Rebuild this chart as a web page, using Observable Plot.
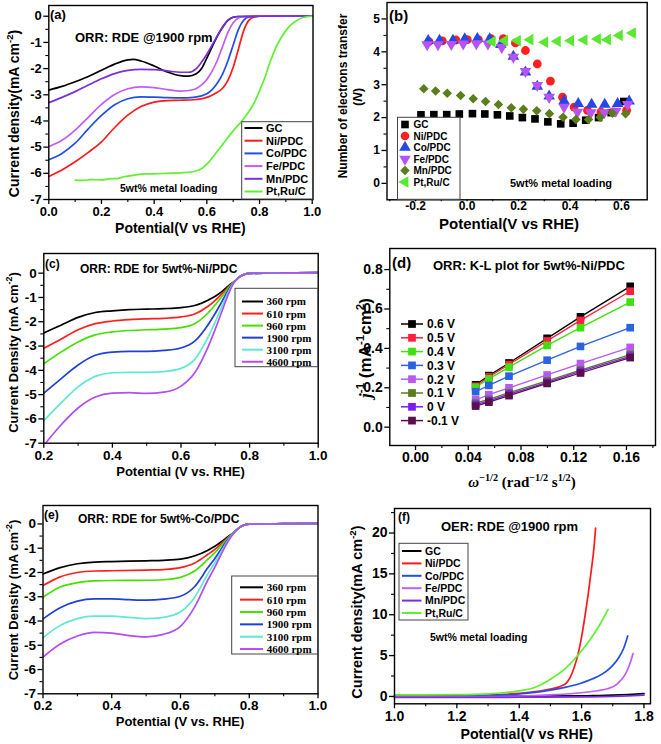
<!DOCTYPE html>
<html><head><meta charset="utf-8">
<script src="https://cdn.jsdelivr.net/npm/d3@7"></script>
<script src="https://cdn.jsdelivr.net/npm/@observablehq/plot@0.6"></script>
<style>
html,body{margin:0;padding:0;background:#fff;}
#root{position:relative;width:661px;height:744px;overflow:hidden;background:#fff;}
#root svg{position:absolute;}
</style></head><body><div id="root"></div>
<script>
const SANS = '"Liberation Sans", Arial, Helvetica, sans-serif';
const SERIF = '"Liberation Serif", "Times New Roman", serif';

// ---------- (a) ORR @1900 rpm ----------
const metalNames = ["GC","Ni/PDC","Co/PDC","Fe/PDC","Mn/PDC","Pt,Ru/C"];
const metalColors = ["#000000","#ff1a1a","#1f4fe6","#c25cf7","#7a2ee0","#5ff02f"];
const aGC = [[0,-2.82],[0.05,-2.68],[0.1,-2.5],[0.15,-2.3],[0.2,-2.06],[0.25,-1.83],[0.3,-1.67],[0.32,-1.65],[0.35,-1.71],[0.4,-1.9],[0.45,-2.13],[0.5,-2.27],[0.53,-2.29],[0.56,-2.2],[0.58,-2.0],[0.6,-1.6],[0.62,-1.17],[0.64,-0.76],[0.66,-0.42],[0.68,-0.16],[0.7,-0.04],[0.72,-0.01],[0.8,0],[1.0,0.01]];
const aNi = [[0,-6.12],[0.05,-5.87],[0.1,-5.56],[0.15,-5.2],[0.2,-4.8],[0.25,-4.25],[0.3,-3.78],[0.35,-3.45],[0.4,-3.28],[0.45,-3.22],[0.5,-3.21],[0.55,-3.19],[0.6,-3.1],[0.63,-2.96],[0.66,-2.75],[0.68,-2.45],[0.7,-1.95],[0.72,-1.25],[0.74,-0.55],[0.76,-0.15],[0.78,-0.03],[0.8,0],[1.0,0.01]];
const aCo = [[0,-5.48],[0.05,-5.24],[0.1,-4.85],[0.15,-4.3],[0.2,-3.79],[0.25,-3.38],[0.3,-3.15],[0.35,-3.08],[0.4,-3.09],[0.45,-3.11],[0.5,-3.12],[0.55,-3.1],[0.6,-2.96],[0.62,-2.8],[0.64,-2.55],[0.66,-2.2],[0.68,-1.7],[0.7,-1.1],[0.72,-0.5],[0.74,-0.15],[0.76,-0.03],[0.8,0],[1.0,0.01]];
const aFe = [[0,-4.98],[0.05,-4.74],[0.1,-4.35],[0.15,-3.86],[0.2,-3.37],[0.25,-2.99],[0.3,-2.77],[0.35,-2.7],[0.4,-2.73],[0.45,-2.8],[0.5,-2.86],[0.55,-2.8],[0.58,-2.62],[0.6,-2.42],[0.62,-2.1],[0.64,-1.68],[0.66,-1.15],[0.68,-0.62],[0.7,-0.25],[0.72,-0.07],[0.74,-0.01],[0.8,0],[1.0,0.01]];
const aMn = [[0,-3.3],[0.05,-3.1],[0.1,-2.88],[0.15,-2.63],[0.2,-2.39],[0.25,-2.19],[0.3,-2.07],[0.35,-2.03],[0.4,-2.04],[0.45,-2.09],[0.5,-2.14],[0.53,-2.14],[0.56,-2.0],[0.58,-1.75],[0.6,-1.45],[0.62,-1.1],[0.64,-0.74],[0.66,-0.4],[0.68,-0.15],[0.7,-0.04],[0.72,-0.01],[0.8,0],[1.0,0.01]];
const aPt = [[0.1,-6.26],[0.13,-6.27],[0.16,-6.24],[0.2,-6.25],[0.23,-6.21],[0.26,-6.2],[0.29,-6.12],[0.32,-6.08],[0.35,-6.03],[0.4,-6.02],[0.45,-6.0],[0.5,-5.98],[0.55,-5.93],[0.58,-5.82],[0.6,-5.65],[0.65,-5.02],[0.7,-4.38],[0.75,-3.78],[0.78,-3.3],[0.8,-2.85],[0.82,-2.35],[0.84,-1.75],[0.86,-1.25],[0.88,-0.85],[0.9,-0.55],[0.92,-0.32],[0.94,-0.17],[0.96,-0.07],[0.98,-0.02],[1.0,0]];
const aXTicks = [0,0.2,0.4,0.6,0.8,1.0];
const aXMinor = [0.1,0.3,0.5,0.7,0.9];
const aYTicks = [0,-1,-2,-3,-4,-5,-6,-7];
const aYMinor = [-0.5,-1.5,-2.5,-3.5,-4.5,-5.5,-6.5];

// ---------- (b) electron transfer number ----------
const bGC = [[-0.179,2.085],[-0.129,2.09],[-0.079,2.09],[-0.03,2.11],[0.021,2.12],[0.069,2.11],[0.118,2.085],[0.166,2.05],[0.215,2.0],[0.264,1.96],[0.314,1.87],[0.364,1.81],[0.412,1.83],[0.461,1.92],[0.511,2.0],[0.56,2.15],[0.609,2.49]];
const bNi = [[-0.148,4.31],[-0.096,4.33],[-0.043,4.36],[0.001,4.37],[0.044,4.37],[0.093,4.4],[0.141,4.4],[0.188,4.27],[0.227,4.04],[0.273,3.63],[0.324,3.11],[0.371,2.62],[0.416,2.32],[0.468,2.22],[0.52,2.17],[0.569,2.17],[0.62,2.22]];
const bCo = [[-0.151,4.34],[-0.107,4.35],[-0.055,4.35],[-0.009,4.39],[0.04,4.4],[0.088,4.39],[0.131,4.22],[0.18,3.86],[0.227,3.38],[0.273,2.95],[0.319,2.65],[0.377,2.51],[0.432,2.42],[0.484,2.4],[0.535,2.4],[0.585,2.42],[0.63,2.5]];
const bFe = [[-0.155,4.22],[-0.113,4.22],[-0.061,4.23],[-0.015,4.24],[0.036,4.25],[0.081,4.24],[0.135,4.14],[0.18,3.84],[0.227,3.41],[0.273,2.98],[0.319,2.62],[0.377,2.32],[0.429,2.17],[0.481,2.15],[0.533,2.15],[0.578,2.2],[0.624,2.4]];
const bMn = [[-0.168,2.88],[-0.122,2.81],[-0.077,2.74],[-0.025,2.67],[0.024,2.57],[0.072,2.49],[0.122,2.4],[0.172,2.3],[0.219,2.25],[0.271,2.21],[0.32,2.12],[0.373,2.01],[0.423,1.94],[0.472,1.94],[0.517,2.01],[0.565,2.13],[0.616,2.12]];
const bPt = [[0.098,4.31],[0.146,4.34],[0.196,4.34],[0.245,4.37],[0.302,4.29],[0.351,4.32],[0.403,4.34],[0.455,4.36],[0.507,4.39],[0.546,4.37],[0.592,4.5],[0.643,4.57]];
const bColors = ["#000000","#ff1f1f","#2546e8","#b653f5","#5c7d1c","#58e830"];
const bXTicks = [-0.2,0,0.2,0.4,0.6];
const bXMinor = [-0.3,-0.1,0.1,0.3,0.5];
const bYTicks = [0,1,2,3,4,5];
const bYMinor = [0.5,1.5,2.5,3.5,4.5];

// ---------- (c) Ni/PDC rpm series ----------
const rpmNames = ["360 rpm","610 rpm","960 rpm","1900 rpm","3100 rpm","4600 rpm"];
const rpmColors = ["#000000","#ff1f1f","#44e000","#1f3fd6","#5fe8d2","#b44cf2"];
const c360 = [[0.2,-2.46],[0.25,-2.14],[0.3,-1.82],[0.35,-1.62],[0.4,-1.55],[0.45,-1.5],[0.5,-1.48],[0.55,-1.46],[0.6,-1.42],[0.64,-1.33],[0.68,-1.1],[0.7,-0.95],[0.72,-0.75],[0.74,-0.5],[0.755,-0.35],[0.77,-0.16],[0.785,-0.05],[0.8,-0.01],[0.9,0.01],[1.0,0.02]];
const c610 = [[0.2,-3.09],[0.25,-2.72],[0.3,-2.33],[0.35,-2.08],[0.4,-1.97],[0.45,-1.91],[0.5,-1.88],[0.55,-1.86],[0.6,-1.8],[0.64,-1.68],[0.68,-1.35],[0.7,-1.12],[0.72,-0.84],[0.74,-0.54],[0.755,-0.35],[0.77,-0.16],[0.785,-0.05],[0.8,-0.01],[0.9,0.01],[1.0,0.02]];
const c960 = [[0.2,-3.73],[0.25,-3.25],[0.3,-2.83],[0.35,-2.54],[0.4,-2.42],[0.45,-2.36],[0.5,-2.33],[0.55,-2.3],[0.6,-2.24],[0.64,-2.08],[0.68,-1.62],[0.7,-1.3],[0.72,-0.95],[0.74,-0.58],[0.755,-0.35],[0.77,-0.16],[0.785,-0.05],[0.8,-0.01],[0.9,0.01],[1.0,0.02]];
const c1900 = [[0.2,-4.94],[0.25,-4.35],[0.3,-3.78],[0.35,-3.38],[0.4,-3.25],[0.45,-3.22],[0.5,-3.22],[0.55,-3.18],[0.6,-3.08],[0.64,-2.8],[0.68,-2.1],[0.7,-1.65],[0.72,-1.15],[0.74,-0.65],[0.755,-0.36],[0.77,-0.16],[0.785,-0.05],[0.8,-0.01],[0.9,0.01],[1.0,0.02]];
const c3100 = [[0.2,-6.07],[0.25,-5.35],[0.3,-4.68],[0.35,-4.25],[0.4,-4.1],[0.45,-4.08],[0.5,-4.08],[0.55,-4.05],[0.6,-3.92],[0.64,-3.55],[0.68,-2.6],[0.7,-2.0],[0.72,-1.35],[0.74,-0.72],[0.755,-0.37],[0.77,-0.16],[0.785,-0.05],[0.8,-0.01],[0.9,0.01],[1.0,0.02]];
const c4600 = [[0.205,-7.0],[0.25,-6.25],[0.3,-5.55],[0.35,-5.1],[0.4,-4.94],[0.45,-4.92],[0.5,-4.95],[0.55,-4.9],[0.6,-4.65],[0.64,-4.1],[0.68,-3.0],[0.7,-2.3],[0.72,-1.55],[0.74,-0.8],[0.755,-0.38],[0.77,-0.16],[0.785,-0.05],[0.8,-0.01],[0.9,0.01],[1.0,0.02]];
const ceXTicks = [0.2,0.4,0.6,0.8,1.0];
const ceXMinor = [0.3,0.5,0.7,0.9];
const ceYTicks = [0,-1,-2,-3,-4,-5,-6,-7];
const ceYMinor = [-0.5,-1.5,-2.5,-3.5,-4.5,-5.5,-6.5];

// ---------- (d) K-L plot ----------
const dNames = ["0.6 V","0.5 V","0.4 V","0.3 V","0.2 V","0.1 V","0 V","-0.1 V"];
const dColors = ["#000000","#ff1f3f","#40e010","#2a62e0","#b65af2","#5c7a1e","#7a1ef0","#5a0f4e"];
const dX = [0.0456,0.0556,0.0709,0.0998,0.1251,0.1628];
const d06 = [0.215,0.262,0.326,0.451,0.560,0.715];
const d05 = [0.208,0.255,0.318,0.438,0.542,0.690];
const d04 = [0.203,0.245,0.305,0.415,0.505,0.635];
const d03 = [0.180,0.212,0.259,0.340,0.410,0.505];
const d02 = [0.139,0.165,0.200,0.265,0.323,0.405];
const d01 = [0.122,0.141,0.175,0.235,0.290,0.368];
const d00 = [0.115,0.134,0.168,0.228,0.283,0.360];
const dm01 = [0.107,0.127,0.160,0.222,0.275,0.353];
const dXTicks = [0,0.04,0.08,0.12,0.16];
const dXMinor = [0.02,0.06,0.10,0.14,0.18];
const dYTicks = [0,0.2,0.4,0.6,0.8];
const dYMinor = [0.1,0.3,0.5,0.7];

// ---------- (e) Co/PDC rpm series ----------
const e360 = [[0.2,-2.06],[0.25,-1.8],[0.3,-1.64],[0.35,-1.57],[0.4,-1.55],[0.5,-1.52],[0.55,-1.5],[0.6,-1.45],[0.64,-1.32],[0.68,-1.08],[0.7,-0.92],[0.72,-0.72],[0.74,-0.5],[0.755,-0.35],[0.77,-0.16],[0.785,-0.05],[0.8,-0.01],[0.9,0.01],[1.0,0.02]];
const e610 = [[0.2,-2.54],[0.25,-2.18],[0.3,-2.0],[0.35,-1.94],[0.4,-1.93],[0.5,-1.9],[0.55,-1.88],[0.6,-1.8],[0.64,-1.62],[0.68,-1.25],[0.7,-1.05],[0.72,-0.8],[0.74,-0.53],[0.755,-0.35],[0.77,-0.16],[0.785,-0.05],[0.8,-0.01],[0.9,0.01],[1.0,0.02]];
const e960 = [[0.2,-3.02],[0.25,-2.6],[0.3,-2.42],[0.35,-2.35],[0.4,-2.33],[0.5,-2.32],[0.55,-2.3],[0.6,-2.2],[0.64,-1.95],[0.68,-1.45],[0.7,-1.18],[0.72,-0.88],[0.74,-0.56],[0.755,-0.35],[0.77,-0.16],[0.785,-0.05],[0.8,-0.01],[0.9,0.01],[1.0,0.02]];
const e1900 = [[0.2,-3.91],[0.25,-3.45],[0.3,-3.18],[0.35,-3.09],[0.4,-3.09],[0.45,-3.12],[0.5,-3.14],[0.55,-3.1],[0.6,-2.98],[0.64,-2.6],[0.68,-1.8],[0.7,-1.42],[0.72,-1.0],[0.74,-0.6],[0.755,-0.36],[0.77,-0.16],[0.785,-0.05],[0.8,-0.01],[0.9,0.01],[1.0,0.02]];
const e3100 = [[0.2,-4.69],[0.25,-4.18],[0.3,-3.9],[0.35,-3.8],[0.4,-3.8],[0.45,-3.85],[0.5,-3.9],[0.55,-3.85],[0.6,-3.62],[0.64,-3.05],[0.68,-2.05],[0.7,-1.6],[0.72,-1.1],[0.74,-0.64],[0.755,-0.37],[0.77,-0.16],[0.785,-0.05],[0.8,-0.01],[0.9,0.01],[1.0,0.02]];
const e4600 = [[0.2,-5.49],[0.25,-4.95],[0.3,-4.62],[0.35,-4.47],[0.4,-4.5],[0.45,-4.6],[0.5,-4.65],[0.55,-4.55],[0.6,-4.22],[0.64,-3.45],[0.68,-2.3],[0.7,-1.78],[0.72,-1.2],[0.74,-0.68],[0.755,-0.38],[0.77,-0.16],[0.785,-0.05],[0.8,-0.01],[0.9,0.01],[1.0,0.02]];

// ---------- (f) OER @1900 rpm ----------
const fGC = [[1.0,0.05],[1.2,0.05],[1.4,0.05],[1.6,0.06],[1.65,0.1],[1.7,0.16],[1.75,0.24],[1.8,0.35]];
const fNi = [[1.0,0.08],[1.1,0.1],[1.2,0.12],[1.3,0.18],[1.35,0.25],[1.4,0.37],[1.45,0.58],[1.5,0.9],[1.53,1.2],[1.55,1.6],[1.56,2.1],[1.57,2.9],[1.58,4.0],[1.59,5.4],[1.6,7.3],[1.61,9.6],[1.62,12.2],[1.63,15.1],[1.64,18.3],[1.645,20.6]];
const fCo = [[1.0,0.0],[1.2,0.02],[1.3,0.1],[1.4,0.3],[1.45,0.5],[1.5,0.78],[1.55,1.15],[1.6,1.65],[1.65,2.4],[1.68,3.1],[1.7,3.8],[1.72,4.8],[1.735,5.9],[1.748,7.4]];
const fFe = [[1.0,-0.05],[1.3,-0.02],[1.4,0.05],[1.5,0.2],[1.55,0.3],[1.6,0.45],[1.65,0.7],[1.683,0.94],[1.715,1.55],[1.74,2.7],[1.755,4.0],[1.765,5.25]];
const fMn = [[1.0,-0.12],[1.2,-0.12],[1.4,-0.1],[1.6,-0.05],[1.7,0.0],[1.75,0.06],[1.8,0.15]];
const fPt = [[1.0,0.2],[1.1,0.2],[1.2,0.22],[1.3,0.32],[1.35,0.45],[1.4,0.68],[1.45,1.1],[1.5,2.1],[1.55,3.5],[1.6,5.6],[1.63,7.1],[1.66,8.9],[1.685,10.65]];
const fXTicks = [1.0,1.2,1.4,1.6,1.8];
const fXMinor = [1.1,1.3,1.5,1.7];
const fYTicks = [0,5,10,15,20];
const fYMinor = [2.5,7.5,12.5,17.5,22.5];

// ---------- helpers ----------
const root = document.getElementById("root");
const sgn = d => (d < 0 ? "-" : "");
const fmt0 = d => sgn(d) + Math.abs(d).toFixed(0);
const fmt1 = d => sgn(d) + Math.abs(d).toFixed(1);
const fmt2 = d => sgn(d) + Math.abs(d).toFixed(2);
const toRows = (names, series) => series.flatMap((s, i) => s.map(([x, y]) => ({name: names[i], x, y})));
const sqrt3 = Math.sqrt(3);
const triDown = {draw(ctx, size) { const y = -Math.sqrt(size / (sqrt3 * 3)); ctx.moveTo(0, -y * 2); ctx.lineTo(-sqrt3 * y, y); ctx.lineTo(sqrt3 * y, y); ctx.closePath(); }};
const triLeft = {draw(ctx, size) { const y = -Math.sqrt(size / (sqrt3 * 3)); ctx.moveTo(y * 2, 0); ctx.lineTo(-y, -sqrt3 * y); ctx.lineTo(-y, sqrt3 * y); ctx.closePath(); }};
const bSymbols = [d3.symbolSquare, d3.symbolCircle, d3.symbolTriangle, triDown, d3.symbolDiamond2, triLeft];

function makePanel(c) {
  const xt = c.xTickSize ?? 5, xp = c.xTickPad ?? 2;
  const svg = Plot.plot({
    width: c.width, height: c.height,
    marginLeft: c.frame.l - c.left, marginRight: c.left + c.width - c.frame.r,
    marginTop: c.frame.t - c.top, marginBottom: c.top + c.height - c.frame.b,
    x: {domain: c.xDomain}, y: {domain: c.yDomain},
    color: c.color,
    style: {fontFamily: SANS, fontSize: c.tickFont + "px", fontWeight: "bold", color: "#000", background: "transparent", overflow: "visible"},
    marks: [
      ...c.marks,
      Plot.frame({stroke: "#000", strokeWidth: 1.4}),
      Plot.axisX(c.xTicks, {tickSize: xt, tickPadding: xp, tickFormat: c.xFmt, strokeWidth: 1.3, label: null}),
      Plot.axisX(c.xMinor, {tickSize: Math.min(3, xt), tickFormat: () => "", strokeWidth: 1.1, label: null}),
      Plot.axisY(c.yTicks, {tickSize: 5, tickPadding: 2, tickFormat: c.yFmt, strokeWidth: 1.3, label: null}),
      Plot.axisY(c.yMinor, {tickSize: 3, tickFormat: () => "", strokeWidth: 1.1, label: null})
    ]
  });
  svg.style.left = c.left + "px";
  svg.style.top = c.top + "px";
  root.appendChild(svg);
}

// (a)
makePanel({
  left: 0, top: 0, width: 330, height: 250, frame: {l: 48.3, r: 312.5, t: 5, b: 199},
  xDomain: [0, 1.003], yDomain: [-7, 0.41], tickFont: 13,
  xTicks: aXTicks, xMinor: aXMinor, xFmt: fmt1, yTicks: aYTicks, yMinor: aYMinor, yFmt: fmt0,
  color: {domain: metalNames, range: metalColors},
  marks: [Plot.line(toRows(metalNames, [aGC, aNi, aCo, aFe, aMn, aPt]), {x: "x", y: "y", z: "name", stroke: "name", strokeWidth: 1.7, curve: "monotone-x"})]
});
// (b)
const bSeries = [bGC, bNi, bCo, bFe, bMn, bPt];
makePanel({
  left: 330, top: 0, width: 331, height: 240, frame: {l: 386.5, r: 646.7, t: 2, b: 199.3},
  xDomain: [-0.311, 0.70], yDomain: [-0.5, 5.5], tickFont: 12, xTickSize: 2, xTickPad: 0,
  xTicks: bXTicks, xMinor: bXMinor, xFmt: fmt1, yTicks: bYTicks, yMinor: bYMinor, yFmt: fmt0,
  marks: bSeries.map((s, i) => Plot.dot(s, {x: d => d[0], y: d => d[1], fill: bColors[i], symbol: bSymbols[i], r: i === 1 ? 4.4 : 4.3, stroke: "none"}))
});
// (c)
makePanel({
  left: 0, top: 250, width: 330, height: 250, frame: {l: 43.3, r: 317.7, t: 253, b: 442.7},
  xDomain: [0.2, 1.0], yDomain: [-7, 0.81], tickFont: 13.5,
  xTicks: ceXTicks, xMinor: ceXMinor, xFmt: fmt1, yTicks: ceYTicks, yMinor: ceYMinor, yFmt: fmt0,
  color: {domain: rpmNames, range: rpmColors},
  marks: [Plot.line(toRows(rpmNames, [c360, c610, c960, c1900, c3100, c4600]), {x: "x", y: "y", z: "name", stroke: "name", strokeWidth: 1.7, curve: "monotone-x", clip: true})]
});
// (d)
const dSeries = [d06, d05, d04, d03, d02, d01, d00, dm01];
const dRows = dSeries.flatMap((ys, i) => ys.map((y, j) => ({name: dNames[i], x: dX[j], y})));
makePanel({
  left: 330, top: 240, width: 331, height: 260, frame: {l: 389.3, r: 655, t: 248, b: 445},
  xDomain: [-0.0195, 0.182], yDomain: [-0.093, 0.907], tickFont: 14,
  xTicks: dXTicks, xMinor: dXMinor, xFmt: fmt2, yTicks: dYTicks, yMinor: dYMinor, yFmt: fmt1,
  color: {domain: dNames, range: dColors},
  marks: [
    Plot.line(dRows, {x: "x", y: "y", z: "name", stroke: "name", strokeWidth: 1.3}),
    Plot.dot(dRows, {x: "x", y: "y", fill: "name", symbol: "square", r: 4.3})
  ]
});
// (e)
makePanel({
  left: 0, top: 500, width: 330, height: 244, frame: {l: 42.5, r: 317.5, t: 505, b: 693.3},
  xDomain: [0.2, 1.0], yDomain: [-7, 0.76], tickFont: 13.5,
  xTicks: ceXTicks, xMinor: ceXMinor, xFmt: fmt1, yTicks: ceYTicks, yMinor: ceYMinor, yFmt: fmt0,
  color: {domain: rpmNames, range: rpmColors},
  marks: [Plot.line(toRows(rpmNames, [e360, e610, e960, e1900, e3100, e4600]), {x: "x", y: "y", z: "name", stroke: "name", strokeWidth: 1.7, curve: "monotone-x", clip: true})]
});
// (f)
makePanel({
  left: 330, top: 500, width: 331, height: 244, frame: {l: 394, r: 650, t: 508, b: 703.3},
  xDomain: [1.0, 1.821], yDomain: [-0.9, 23.0], tickFont: 14,
  xTicks: fXTicks, xMinor: fXMinor, xFmt: fmt1, yTicks: fYTicks, yMinor: fYMinor, yFmt: fmt0,
  color: {domain: metalNames, range: metalColors},
  marks: [Plot.line(toRows(metalNames, [fGC, fNi, fCo, fFe, fMn, fPt]), {x: "x", y: "y", z: "name", stroke: "name", strokeWidth: 1.7, curve: "monotone-x"})]
});

// ---------- overlay: titles, labels, legends ----------
const ov = d3.create("svg").attr("width", 661).attr("height", 744)
  .style("left", "0px").style("top", "0px").style("pointer-events", "none").style("overflow", "visible");
root.appendChild(ov.node());

function rich(x, y, parts, o = {}) {
  const size = o.size || 12;
  const t = ov.append("text")
    .attr("transform", `translate(${x},${y})` + (o.rotate ? ` rotate(${o.rotate})` : ""))
    .attr("text-anchor", o.anchor || "start")
    .attr("font-family", o.family || SANS)
    .attr("font-weight", o.weight || "bold")
    .attr("font-size", size)
    .attr("fill", "#000");
  if (typeof parts === "string") parts = [{t: parts}];
  let shift = 0;
  for (const p of parts) {
    const ts = t.append("tspan").text(p.t);
    const target = p.sup ? -0.42 * size : 0;
    if (target !== shift) { ts.attr("dy", target - shift); shift = target; }
    if (p.sup) ts.attr("font-size", 0.68 * size);
    if (p.italic) ts.attr("font-style", "italic");
    if (p.family) ts.attr("font-family", p.family);
  }
  return t;
}

// panel titles
rich(50, 19, "(a)", {size: 13});
rich(75, 41.5, "ORR: RDE @1900 rpm", {size: 13});
rich(120, 191.5, "5wt% metal loading", {size: 10.5});
rich(389, 21, "(b)", {size: 15});
rich(510, 187, "5wt% metal loading", {size: 11});
rich(45, 268, "(c)", {size: 12});
rich(80, 272.5, "ORR: RDE for 5wt%-Ni/PDC", {size: 12});
rich(392, 268, "(d)", {size: 15});
rich(433, 269.5, "ORR: K-L plot for 5wt%-Ni/PDC", {size: 13});
rich(44, 519, "(e)", {size: 12});
rich(78, 523, "ORR: RDE for 5wt%-Co/PDC", {size: 12});
rich(398, 521, "(f)", {size: 12});
rich(441, 531, "OER: RDE @1900 rpm", {size: 13});
rich(430, 641, "5wt% metal loading", {size: 10.5});

// axis titles
const cdA = [{t: "Current density(mA cm"}, {t: "-2", sup: true}, {t: ")"}];
rich(18.5, 113.5, cdA, {size: 14, anchor: "middle", rotate: -90});
rich(180.4, 233, "Potential(V vs RHE)", {size: 14, anchor: "middle"});
rich(347, 96, "Number of electrons transfer", {size: 12, anchor: "middle", rotate: -90});
rich(362, 97, [{t: "("}, {t: "N", italic: true}, {t: ")"}], {size: 13, anchor: "middle", rotate: -90});
rich(509, 229, "Potential(V vs RHE)", {size: 15, anchor: "middle"});
const cdC = [{t: "Current Density (mA cm"}, {t: "-2", sup: true}, {t: ")"}];
rich(17.5, 352.5, cdC, {size: 13, anchor: "middle", rotate: -90});
rich(180.5, 476, "Potential (V vs. RHE)", {size: 13, anchor: "middle"});
rich(17.5, 600, cdC, {size: 13, anchor: "middle", rotate: -90});
rich(180, 726, "Potential (V vs. RHE)", {size: 13, anchor: "middle"});
rich(371, 348, [{t: "j", italic: true, family: SERIF}, {t: "-1", sup: true}, {t: " (mA"}, {t: "-1", sup: true}, {t: "cm"}, {t: "2", sup: true}, {t: ")"}], {size: 17, anchor: "middle", rotate: -90});
rich(522, 487, [{t: "ω", italic: true}, {t: "−1/2", sup: true}, {t: " (rad"}, {t: "−1/2", sup: true}, {t: " s"}, {t: "1/2", sup: true}, {t: ")"}], {size: 15, anchor: "middle", family: SERIF});
rich(362, 612, cdA, {size: 14.5, anchor: "middle", rotate: -90});
rich(526.7, 739, "Potential(V vs RHE)", {size: 14.2, anchor: "middle"});

// legends
function lineLegend({box, x0, x1, tx, y0, dy, names, colors, size, family, sw = 2, marker = null}) {
  if (box) ov.append("rect").attr("x", box[0]).attr("y", box[1]).attr("width", box[2]).attr("height", box[3])
    .attr("fill", "#fff").attr("stroke", "#444").attr("stroke-width", 1);
  names.forEach((n, i) => {
    const y = y0 + i * dy;
    ov.append("line").attr("x1", x0).attr("x2", x1).attr("y1", y).attr("y2", y).attr("stroke", colors[i]).attr("stroke-width", sw);
    if (marker) ov.append("path").attr("d", d3.symbol(marker, 60)()).attr("transform", `translate(${(x0 + x1) / 2},${y})`).attr("fill", colors[i]);
    rich(tx, y + size * 0.36, n, {size, family});
  });
}
lineLegend({box: [241.7, 121.7, 70.8, 77.3], x0: 244.5, x1: 262.5, tx: 266, y0: 128, dy: 12.7, names: metalNames, colors: metalColors, size: 11});
lineLegend({box: [235, 288.3, 82.7, 78.4], x0: 242, x1: 263, tx: 266.5, y0: 301.5, dy: 12.05, names: rpmNames, colors: rpmColors, size: 11, family: SERIF});
lineLegend({box: [231.7, 576, 85.8, 78], x0: 240, x1: 263, tx: 266.7, y0: 587.3, dy: 12.35, names: rpmNames, colors: rpmColors, size: 11, family: SERIF});
lineLegend({box: null, x0: 401, x1: 423, tx: 427, y0: 324, dy: 13.8, names: dNames, colors: dColors, size: 12, sw: 1.5, marker: d3.symbolSquare});
lineLegend({box: [399, 543.3, 69, 76.7], x0: 402, x1: 421.5, tx: 425, y0: 551, dy: 12.4, names: metalNames, colors: metalColors, size: 10.5});
// (b) symbol legend
ov.append("rect").attr("x", 397.5).attr("y", 117.3).attr("width", 62.5).attr("height", 82)
  .attr("fill", "#fff").attr("stroke", "#444").attr("stroke-width", 1);
metalNames.forEach((n, i) => {
  const y = 124.5 + i * 11.5;
  ov.append("path").attr("d", d3.symbol(bSymbols[i], Math.PI * 4.3 * 4.3)()).attr("transform", `translate(405,${y})`).attr("fill", bColors[i]);
  rich(413.5, y + 3.6, n, {size: 10});
});
</script></body></html>
